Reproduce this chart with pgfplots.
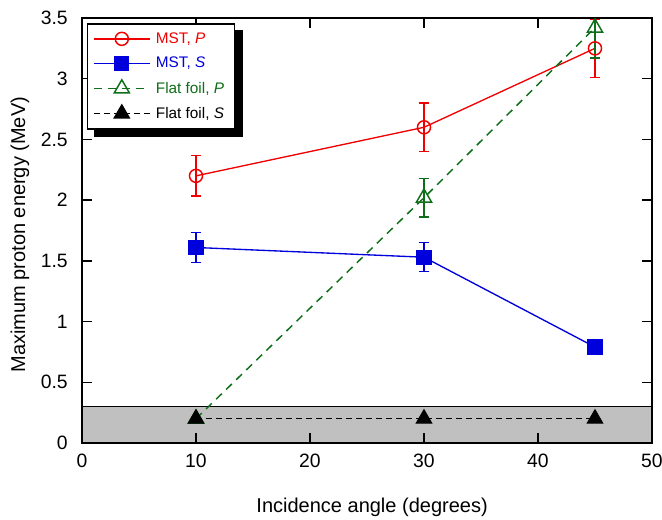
\documentclass[border=0pt]{standalone}
\usepackage{pgfplots}
\pgfplotsset{compat=1.18}
\usepackage{fontspec}
\setmainfont{Liberation Sans}
\definecolor{mred}{RGB}{240,0,0}
\definecolor{mblue}{RGB}{0,0,220}
\definecolor{fgreen}{RGB}{15,110,25}
\definecolor{band}{RGB}{192,192,192}
\begin{document}
\begin{tikzpicture}
\begin{axis}[
  at={(0,0)}, anchor=south west,
  scale only axis,
  width=427.5pt, height=318.75pt,
  xmin=0, xmax=50, ymin=0, ymax=3.5,
  xtick={0,10,...,50}, ytick={0,0.5,...,3.5},
  yticklabels={0,0.5,1,1.5,2,2.5,3,3.5},
  /pgf/number format/assume math mode=true,
  tick align=inside, major tick length=7.5pt,
  tick style={black, line width=1pt},
  axis line style={line width=1.3pt},
  ticklabel style={font=\fontsize{14.5}{16}\selectfont, inner sep=0pt},
  xticklabel style={anchor=base, yshift=-18.75pt},
  yticklabel style={anchor=east, xshift=-10.5pt},
  xlabel={Incidence angle (degrees)},
  ylabel={Maximum proton energy (MeV)},
  label style={font=\fontsize{15}{17}\selectfont},
  xlabel style={at={(axis description cs:0.509,-0.1647)}, anchor=base},
  ylabel style={at={(axis description cs:-0.1088,0.49)}, anchor=center},
  axis on top,
  legend cell align=left,
  legend style={name=leg, font=\fontsize{11.5}{13}\selectfont, draw=black, line width=1.1pt,
    at={(axis description cs:0.0088,0.988)}, anchor=north west,
    row sep=5pt, inner xsep=4pt, inner ysep=4.5pt,
    nodes={inner xsep=4pt}},
  legend image code/.code={%
    \draw[mark repeat=2, mark phase=2, #1]
      plot coordinates {(0pt,0pt) (21pt,0pt) (42pt,0pt)};},
]
% shaded band below 0.3 MeV
\addplot[fill=band, draw=none, forget plot] coordinates {(0,0.3) (50,0.3)} \closedcycle;
\addplot[black, line width=0.9pt, forget plot] coordinates {(0,0.3) (50,0.3)};

\addplot[mred, line width=1pt, mark=o, mark size=4.9pt,
  mark options={solid, line width=1.1pt},
  error bars/.cd, y dir=both, y explicit,
  error bar style={line width=1pt}, error mark options={rotate=90, mark size=4pt, line width=1pt}]
  coordinates {(10,2.20) +- (0,0.165) (30,2.60) +- (0,0.20) (45,3.25) +- (0,0.24)};
\addlegendentry{\textcolor{mred}{MST, \textit{P}}}

\addplot[mblue, line width=1pt, mark=square*, mark size=5.2pt,
  mark options={solid},
  error bars/.cd, y dir=both, y explicit,
  error bar style={line width=1pt}, error mark options={rotate=90, mark size=4pt, line width=1pt}]
  coordinates {(10,1.61) +- (0,0.125) (30,1.53) +- (0,0.12) (45,0.79) +- (0,0.04)};
\addlegendentry{\textcolor{mblue}{MST, \textit{S}}}

\addplot[fgreen, line width=1.1pt, dash pattern=on 6pt off 4.5pt, mark=triangle, mark size=6.5pt,
  mark options={solid, line width=1.1pt},
  error bars/.cd, y dir=both, y explicit,
  error bar style={solid, line width=1pt}, error mark options={rotate=90, mark size=4pt, line width=1pt}]
  coordinates {(10,0.20) +- (0,0) (30,2.02) +- (0,0.16) (45,3.42) +- (0,0.25)};
\addlegendentry{\textcolor{fgreen}{Flat foil, \textit{P}}}

\addplot[black, line width=1pt, dash pattern=on 4.5pt off 3pt, mark=triangle*, mark size=6.5pt,
  mark options={solid}]
  coordinates {(10,0.20) (30,0.20) (45,0.20)};
\addlegendentry{Flat foil, \textit{S}}
\end{axis}
% shadow along the right and bottom edges of the legend box
\fill[black] ([yshift=-5.5pt]leg.north east) rectangle ([xshift=5.5pt,yshift=-5.5pt]leg.south east);
\fill[black] ([xshift=5.5pt]leg.south west) rectangle ([xshift=5.5pt,yshift=-5.5pt]leg.south east);
\pgfresetboundingbox
\path[use as bounding box] (-61.5pt,-57.75pt) rectangle (435pt,332.25pt);
\end{tikzpicture}
\end{document}
